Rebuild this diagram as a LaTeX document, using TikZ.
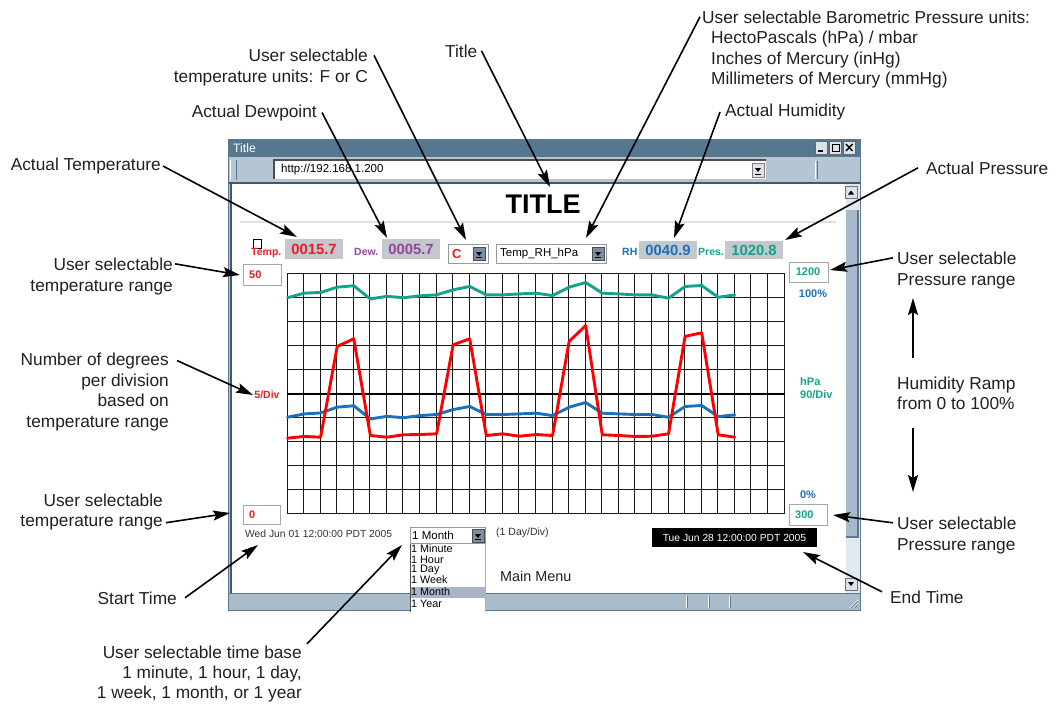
\documentclass[tikz,border=0pt]{standalone}
\usepackage{fontspec}
\setmainfont{Liberation Sans}
\usetikzlibrary{arrows.meta}

\definecolor{tred}{HTML}{EE1C24}
\definecolor{tpurple}{HTML}{92469A}
\definecolor{tblue}{HTML}{1C72BA}
\definecolor{tteal}{HTML}{14A38B}
\definecolor{titlebar}{HTML}{55788F}
\definecolor{chrome}{HTML}{B6C5D2}
\definecolor{chromeedge}{HTML}{5F778C}
\definecolor{frameline}{HTML}{3E5A73}
\definecolor{readbg}{HTML}{C4C7CE}
\definecolor{thumb}{HTML}{A5B9CB}
\definecolor{track}{HTML}{E1E8EE}
\definecolor{listsel}{HTML}{A8B5C6}
\definecolor{labeltxt}{HTML}{231F20}
\definecolor{btnface}{HTML}{7C8EA4}
\definecolor{btnlight}{HTML}{DCE2E8}
\definecolor{statusbar}{HTML}{A9BCCC}
\definecolor{smalltxt}{HTML}{333333}

% small drop-down button, top-left corner at (#1,#2)
\newcommand{\dropbtn}[2]{%
  \fill[btnface] (#1,#2) rectangle (#1+12,#2+13);
  \draw[black!70,line width=0.5pt] (#1,#2) rectangle (#1+12,#2+13);
  \fill[black] (#1+3,#2+5) -- (#1+9,#2+5) -- (#1+6,#2+9) -- cycle;
  \draw[black,line width=0.8pt] (#1+3,#2+10.5) -- (#1+9,#2+10.5);
}

\begin{document}
\begin{tikzpicture}[x=1pt,y=-1pt,
  lbl/.style={font=\fontsize{17.3}{20.6}\selectfont, text=labeltxt, inner sep=0pt},
  callout/.style={draw=black, line width=1.6pt, -{Stealth[length=17pt,width=10pt,inset=3pt]}},
  readlbl/.style={font=\bfseries\fontsize{10.5}{12}\selectfont, inner sep=0pt, anchor=base west},
  readbox/.style={fill=readbg, minimum width=58pt, minimum height=20pt, inner sep=0pt,
                  font=\bfseries\fontsize{14.8}{16}\selectfont},
  inbox/.style={draw=black!35, fill=white, line width=0.8pt, inner sep=0pt,
     path picture={\draw[black!70,line width=2.6pt]
       (path picture bounding box.south west) -- (path picture bounding box.north west)
       -- (path picture bounding box.north east);}},
  sel/.style={draw=black!40, fill=white, line width=0.8pt, inner sep=0pt,
     path picture={\draw[black!75,line width=2.2pt]
       (path picture bounding box.south west) -- (path picture bounding box.north west)
       -- (path picture bounding box.north east);}},
  chartlbl/.style={font=\bfseries\fontsize{11}{13}\selectfont, inner sep=0pt},
  uitxt/.style={inner sep=0pt, anchor=west},
  gridline/.style={black!90, line width=1pt},
  dataline/.style={line width=2.9pt, line join=round, line cap=round},
]
\useasboundingbox (0,0) rectangle (1058,705);

% ---------------- browser window ----------------
\fill[chrome] (228,139) rectangle (860,610);
\fill[titlebar] (228,139) rectangle (860,157);
\node[uitxt, text=white, font=\fontsize{12.2}{14}\selectfont] (wtitle) at (233,148) {Title};
% title bar buttons
\foreach \bx in {815,829,843}{
  \fill[btnlight] (\bx,141) rectangle (\bx+12.5,154);
  \draw[black!60,line width=0.5pt] (\bx,141) rectangle (\bx+12.5,154);
}
\draw[black,line width=1.6pt] (818,151) -- (823,151);
\draw[black,line width=0.9pt] (832,144) rectangle (839.5,151.5);
\draw[black,line width=1.4pt] (846,144) -- (852.5,151) (846,151) -- (852.5,144);

% toolbar with address field
\draw[white,line width=0.8pt] (230,160) -- (230,180);
\draw[chromeedge,line width=0.8pt] (236,160) -- (236,180);
\fill[white] (274,160) rectangle (766,179);
\draw[black!70,line width=1.2pt] (274,179) -- (274,160) -- (766,160);
\draw[black!25,line width=0.6pt] (766,160) -- (766,179) -- (274,179);
\node[uitxt, font=\fontsize{11.5}{13}\selectfont] (url) at (281,170) {http://192.168.1.200};
\fill[btnlight] (752,163) rectangle (764,177);
\draw[black!50,line width=0.5pt] (752,163) rectangle (764,177);
\fill[black] (755,168) -- (761,168) -- (758,172) -- cycle;
\draw[black,line width=0.8pt] (755,174) -- (761,174);
\draw[white,line width=0.8pt] (815,161) -- (815,179);
\draw[chromeedge,line width=0.8pt] (817,161) -- (817,179);

% page area
\fill[white] (231,183) rectangle (846,593);
\draw[frameline,line width=1.8pt] (229,183) -- (860,183);
\draw[frameline,line width=2pt] (230.5,183) -- (230.5,593);
\draw[black!12,line width=2pt] (240,222) -- (836,222);

% scroll bar
\fill[track] (846,184) rectangle (860,593);
\fill[btnlight] (845,186) rectangle (857,198);
\draw[black!55,line width=0.5pt] (845,186) rectangle (857,198);
\fill[black] (848,194.5) -- (854,194.5) -- (851,190.5) -- cycle;
\fill[thumb] (846,210) rectangle (858,537);
\draw[chromeedge,line width=1.5pt] (858,210) -- (858,537) -- (846,537);
\fill[btnlight] (845,578) rectangle (857,590);
\draw[black!55,line width=0.5pt] (845,578) rectangle (857,590);
\fill[black] (848,582) -- (854,582) -- (851,586) -- cycle;

% status bar
\fill[statusbar] (228,593) rectangle (860,610);
\draw[chromeedge,line width=0.6pt] (228,593) -- (860,593);
\foreach \sx in {686,708,729}{
  \draw[white,line width=0.8pt] (\sx,596) -- (\sx,608);
  \draw[chromeedge,line width=0.8pt] (\sx+1.6,596) -- (\sx+1.6,608);
}
\draw[white,line width=0.7pt] (850,608) -- (858,600) (853.5,608) -- (858,603.5);
\draw[chromeedge,line width=0.7pt] (851,608) -- (858,601) (854.5,608) -- (858,604.5);
\draw[chromeedge,line width=0.8pt] (228,139) rectangle (860,610);

% ---------------- page content ----------------
\node[font=\bfseries\fontsize{27}{30}\selectfont, inner sep=0pt] (ttl) at (543,204) {TITLE};

% readings row
\node[draw=black, fill=white, line width=0.8pt, minimum width=8pt, minimum height=9pt, inner sep=0pt] (chk) at (257,243.5) {};
\node[readlbl, text=tred] (tlbl) at (251,255.5) {Temp.};
\node[readbox, text=tred] (tempbox) at (314,249) {0015.7};
\node[readlbl, text=tpurple] (dlbl) at (354,255.5) {Dew.};
\node[readbox, text=tpurple] (dewbox) at (411,249) {0005.7};
\node[sel, minimum width=40pt, minimum height=19pt] (unitsel) at (468,253.5) {};
\node[uitxt, text=tred, font=\bfseries\fontsize{13}{15}\selectfont] (unitc) at (452,254) {C};
\dropbtn{473}{247}
\node[sel, minimum width=110pt, minimum height=19pt] (modesel) at (551,253.5) {};
\node[uitxt, font=\fontsize{11.5}{13}\selectfont] (modetxt) at (500,254) {Temp\_RH\_hPa};
\dropbtn{592}{247}
\node[readlbl, text=tblue] (rhlbl) at (622,255.5) {RH};
\node[readbox, text=tblue, minimum height=18pt] (rhbox) at (668,250) {0040.9};
\node[readlbl, text=tteal] (plbl) at (698,255.5) {Pres.};
\node[readbox, text=tteal, minimum height=18pt] (presbox) at (754,250) {1020.8};

% range inputs and axis labels
\node[inbox, minimum width=38pt, minimum height=21pt] (tmax) at (262,274.5) {};
\node[chartlbl, uitxt, text=tred] (tmaxv) at (249,274.5) {50};
\node[inbox, minimum width=37pt, minimum height=19pt] (tmin) at (261.5,514.5) {};
\node[chartlbl, uitxt, text=tred] (tminv) at (249,514.5) {0};
\node[chartlbl, text=tred, font=\bfseries\fontsize{10.5}{12}\selectfont] (tdiv) at (267,395) {5/Div};
\node[inbox, minimum width=39pt, minimum height=20pt] (pmax) at (808.5,272) {};
\node[chartlbl, text=tteal] (pmaxv) at (808,272) {1200};
\node[inbox, minimum width=38pt, minimum height=21pt] (pmin) at (808,514.5) {};
\node[chartlbl, uitxt, text=tteal] (pminv) at (795,515) {300};
\node[chartlbl, text=tblue] (hmax) at (813,294) {100\%};
\node[chartlbl, text=tblue] (hmin) at (808,495) {0\%};
\node[chartlbl, uitxt, text=tteal] (punit) at (800,382) {hPa};
\node[chartlbl, uitxt, text=tteal] (pdiv) at (800,395) {90/Div};

% chart grid: 30 x 10 divisions, lines snapped to whole pixels
\foreach \i in {0,...,30}{
  \pgfmathsetmacro\gx{floor(287+\i*16.5667)+0.5}
  \draw[gridline] (\gx,273) -- (\gx,514);
}
\foreach \j in {0,...,10}{
  \pgfmathsetmacro\gy{273.5+\j*24}
  \draw[gridline] (287,\gy) -- (785,\gy);
}
\draw[black,line width=2pt] (287,394) -- (785,394);

% chart traces
\begin{scope}[shift={(287.5,513.5)}]
\begin{scope}[x=16.5667pt,y=24pt]
  \draw[dataline, tteal] plot coordinates {(0,8.99) (1,9.18) (2,9.21) (3,9.43) (4,9.49) (5,8.94) (6,9.05) (7,8.99) (8,9.07) (9,9.11) (10,9.32) (11,9.46) (12,9.11) (13,9.11) (14,9.15) (15,9.18) (16,9.08) (17,9.43) (18,9.625) (19,9.18) (20,9.15) (21,9.11) (22,9.11) (23,8.97) (24,9.46) (25,9.5) (26,9.01) (27,9.11)};
  \draw[dataline, tblue] plot coordinates {(0,4.01) (1,4.15) (2,4.19) (3,4.43) (4,4.49) (5,3.94) (6,4.05) (7,3.99) (8,4.08) (9,4.125) (10,4.33) (11,4.46) (12,4.125) (13,4.125) (14,4.15) (15,4.18) (16,4.08) (17,4.43) (18,4.625) (19,4.18) (20,4.15) (21,4.125) (22,4.125) (23,4.01) (24,4.46) (25,4.5) (26,4.04) (27,4.11)};
  \draw[dataline, red] plot coordinates {(0,3.14) (1,3.21) (2,3.18) (3,6.96) (4,7.28) (5,3.25) (6,3.18) (7,3.28) (8,3.29) (9,3.32) (10,7.03) (11,7.28) (12,3.25) (13,3.32) (14,3.22) (15,3.29) (16,3.25) (17,7.17) (18,7.83) (19,3.28) (20,3.25) (21,3.21) (22,3.22) (23,3.32) (24,7.38) (25,7.53) (26,3.28) (27,3.18)};
\end{scope}
\end{scope}

% time line
\node[uitxt, font=\fontsize{10.3}{12}\selectfont, text=smalltxt] (startv) at (245,534) {Wed Jun 01 12:00:00 PDT 2005};
\node[fill=black, text=white, minimum width=165pt, minimum height=19pt, inner sep=0pt,
      font=\fontsize{10.3}{12}\selectfont] (endbox) at (734.5,537.5) {Tue Jun 28 12:00:00 PDT 2005};
\node[uitxt, font=\fontsize{10.5}{12}\selectfont, text=smalltxt] (divtxt) at (496,533) {(1 Day/Div)};
\node[uitxt, font=\fontsize{14.4}{16}\selectfont, text=labeltxt] (menu) at (500,576) {Main Menu};

% time base drop-down with its open list
\fill[white] (410,543) rectangle (485,612);
\fill[listsel] (411,587) rectangle (485,598);
\draw[black!70,line width=0.9pt] (410,543) -- (410,612);
\draw[black!30,line width=0.6pt] (485,543) -- (485,612);
\foreach \t/\ty/\nm in {1 Minute/549/lmin,1 Hour/559.5/lhour,1 Day/569.5/lday,1 Week/580/lweek,1 Month/592/lmonth,1 Year/604/lyear}
  \node[uitxt, font=\fontsize{10.8}{12}\selectfont] (\nm) at (411,\ty) {\t};
\node[sel, minimum width=75pt, minimum height=16pt] (tbsel) at (447.5,535) {};
\node[uitxt, font=\fontsize{11.5}{13}\selectfont] (tbtxt) at (412,535) {1 Month};
\dropbtn{472}{529}

% ---------------- callout labels ----------------
\node[lbl, anchor=base west] (baro1) at (702,23) {User selectable Barometric Pressure units:};
\node[lbl, anchor=base west] (baro2) at (711,43.5) {HectoPascals (hPa) / mbar};
\node[lbl, anchor=base west] (baro3) at (711,64) {Inches of Mercury (inHg)};
\node[lbl, anchor=base west] (baro4) at (711,84.5) {Millimeters of Mercury (mmHg)};
\node[lbl, anchor=base west] (lblTitle) at (445,57) {Title};
\node[lbl, anchor=base east] (units1) at (368,61.5) {User selectable};
\node[lbl, anchor=base east] (units2) at (368,82) {temperature units: F or C};
\node[lbl, anchor=base east] (dew) at (317,117) {Actual Dewpoint};
\node[lbl, anchor=base east] (temp) at (161,170.5) {Actual Temperature};
\node[lbl, anchor=base west] (humid) at (725,116.5) {Actual Humidity};
\node[lbl, anchor=base west] (press) at (926,174) {Actual Pressure};
\node[lbl, anchor=base west] (prtop1) at (897,264) {User selectable};
\node[lbl, anchor=base west] (prtop2) at (897,285) {Pressure range};
\node[lbl, anchor=base west] (ramp1) at (897,389) {Humidity Ramp};
\node[lbl, anchor=base west] (ramp2) at (897,409.5) {from 0 to 100\%};
\node[lbl, anchor=base west] (prbot1) at (897,529) {User selectable};
\node[lbl, anchor=base west] (prbot2) at (897,550) {Pressure range};
\node[lbl, anchor=base west] (endt) at (890,603) {End Time};
\node[lbl, anchor=base east] (trtop1) at (173,270) {User selectable};
\node[lbl, anchor=base east] (trtop2) at (173,291) {temperature range};
\node[lbl, anchor=base east] (deg1) at (169,365) {Number of degrees};
\node[lbl, anchor=base east] (deg2) at (169,386) {per division};
\node[lbl, anchor=base east] (deg3) at (169,406.5) {based on};
\node[lbl, anchor=base east] (deg4) at (169,427) {temperature range};
\node[lbl, anchor=base east] (trbot1) at (163,506) {User selectable};
\node[lbl, anchor=base east] (trbot2) at (163,526.5) {temperature range};
\node[lbl, anchor=base east] (startt) at (177,604) {Start Time};
\node[lbl, anchor=base east] (tb1) at (302,658) {User selectable time base};
\node[lbl, anchor=base east] (tb2) at (302,678) {1 minute, 1 hour, 1 day,};
\node[lbl, anchor=base east] (tb3) at (302,698.5) {1 week, 1 month, or 1 year};

% arrow targets
\coordinate (tipBaro) at (586,238);
\coordinate (tipTitle) at (550,187);
\coordinate (tipUnits) at (466,240);
\coordinate (tipDew) at (387,238);
\coordinate (tipTemp) at (297,237);
\coordinate (tipHumid) at (674,238);
\coordinate (tipPress) at (785,240);
\coordinate (tipPrTop) at (830,270);
\coordinate (tipPrBot) at (833,515);
\coordinate (tipEnd) at (803,552);
\coordinate (tipTrTop) at (240,275);
\coordinate (tipDeg) at (253,395);
\coordinate (tipTrBot) at (230,513);
\coordinate (tipStart) at (258,545);
\coordinate (tipTb) at (402,545);
\coordinate (upTip) at (913,298);
\coordinate (downTip) at (913,492);

% callout arrows
\draw[callout] ([xshift=-2pt]baro1.west) -- (tipBaro);
\draw[callout] ([xshift=4pt]lblTitle.east) -- (tipTitle);
\draw[callout] ([xshift=6pt]units1.east) -- (tipUnits);
\draw[callout] ([xshift=5pt]dew.east) -- (tipDew);
\draw[callout] ([xshift=2pt]temp.east) -- (tipTemp);
\draw[callout] ([xshift=-5pt]humid.west) -- (tipHumid);
\draw[callout] ([xshift=-8pt]press.west) -- (tipPress);
\draw[callout] ([xshift=-4pt]prtop1.west) -- (tipPrTop);
\draw[callout] ([shift={(16,-31)}]ramp1.base west) -- (upTip);
\draw[callout] ([shift={(16,18)}]ramp2.base west) -- (downTip);
\draw[callout] ([xshift=-4pt]prbot1.west) -- (tipPrBot);
\draw[callout] ([shift={(-8,-5)}]endt.west) -- (tipEnd);
\draw[callout] ([xshift=2pt]trtop1.east) -- (tipTrTop);
\draw[callout] ([xshift=8pt]deg1.east) -- (tipDeg);
\draw[callout] ([xshift=3pt]trbot2.east) -- (tipTrBot);
\draw[callout] ([xshift=8pt]startt.east) -- (tipStart);
\draw[callout] ([shift={(5,-8)}]tb1.east) -- (tipTb);
\end{tikzpicture}
\end{document}
